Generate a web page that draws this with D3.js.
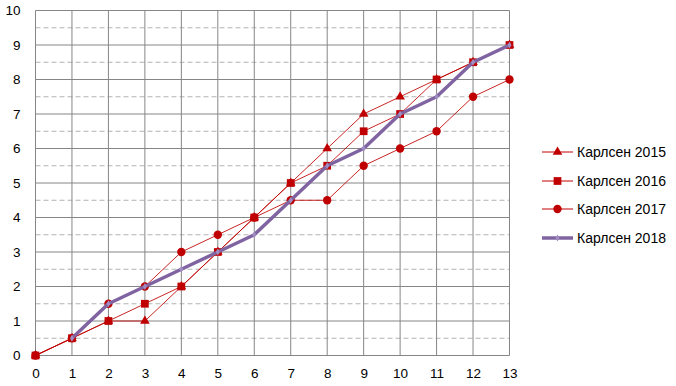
<!DOCTYPE html>
<html>
<head>
<meta charset="utf-8">
<script src="https://cdn.jsdelivr.net/npm/d3@7"></script>
<style>
  body { margin: 0; background: #fff; }
  text { font-family: "Liberation Sans", Arial, sans-serif; }
</style>
</head>
<body>
<div id="chart"></div>
<script>
// games played (x) and cumulative score (y)
var rounds = [0, 1, 2, 3, 4, 5, 6, 7, 8, 9, 10, 11, 12, 13]
var s2015 = [0, 0.5, 1, 1, 2, 3, 4, 5, 6, 7, 7.5, 8, 8.5, 9]
var s2016 = [0, 0.5, 1, 1.5, 2, 3, 4, 5, 5.5, 6.5, 7, 8, 8.5, 9]
var s2017 = [0, 0.5, 1.5, 2, 3, 3.5, 4, 4.5, 4.5, 5.5, 6, 6.5, 7.5, 8]
var s2018 = [null, 0.5, 1.5, 2, 2.5, 3, 3.5, 4.5, 5.5, 6, 7, 7.5, 8.5, 9]
var seriesNames = ["Карлсен 2015", "Карлсен 2016", "Карлсен 2017", "Карлсен 2018"]
var yTicks = [0, 1, 2, 3, 4, 5, 6, 7, 8, 9, 10]
var yHalf = [0.5, 1.5, 2.5, 3.5, 4.5, 5.5, 6.5, 7.5, 8.5, 9.5]

var width = 676, height = 386
var red = "#C00000", purple = "#8064A2"

var svg = d3.select("#chart").append("svg")
    .attr("width", width)
    .attr("height", height)

var x = d3.scaleLinear().domain([0, 13]).range([35.5, 509.5])
var y = d3.scaleLinear().domain([0, 10]).range([355.5, 10.5])

// dashed half-step gridlines
svg.append("g").selectAll("line")
    .data(yHalf).enter().append("line")
    .attr("x1", x(0)).attr("x2", x(13))
    .attr("y1", d => y(d)).attr("y2", d => y(d))
    .attr("stroke", "#b3b3b3")
    .attr("stroke-dasharray", "5,3")

// solid gridlines
svg.append("g").selectAll("line")
    .data(yTicks).enter().append("line")
    .attr("x1", x(0)).attr("x2", x(13))
    .attr("y1", d => y(d)).attr("y2", d => y(d))
    .attr("stroke", "#868686")

svg.append("g").selectAll("line")
    .data(rounds).enter().append("line")
    .attr("x1", d => x(d)).attr("x2", d => x(d))
    .attr("y1", y(0)).attr("y2", y(10))
    .attr("stroke", "#868686")

// axis labels
var axisY = d3.axisLeft(y).tickValues(yTicks).tickSize(0).tickPadding(15)
var gy = svg.append("g").attr("transform", "translate(" + x(0) + ",0)").call(axisY)
gy.select(".domain").remove()
gy.selectAll("text").attr("font-size", 13.5).attr("fill", "#000")
    .style("font-family", "Liberation Sans, Arial, sans-serif")

var axisX = d3.axisBottom(x).tickValues(rounds).tickSize(0).tickPadding(13)
var gx = svg.append("g").attr("transform", "translate(0," + y(0) + ")").call(axisX)
gx.select(".domain").remove()
gx.selectAll("text").attr("font-size", 13.5).attr("fill", "#000")
    .style("font-family", "Liberation Sans, Arial, sans-serif")

var line = d3.line()
    .defined(d => d != null)
    .x((d, i) => x(rounds[i]))
    .y(d => y(d))

var tri = d3.symbol().type(d3.symbolTriangle).size(40)
var sq = d3.symbol().type(d3.symbolSquare).size(60)
var circ = d3.symbol().type(d3.symbolCircle).size(55)
var dia = d3.symbol().type(d3.symbolDiamond).size(14)

var series = [
    { data: s2015, sym: tri },
    { data: s2016, sym: sq },
    { data: s2017, sym: circ }
]

series.forEach(function (s) {
    svg.append("path")
        .datum(s.data)
        .attr("d", line)
        .attr("fill", "none")
        .attr("stroke", red)
        .attr("stroke-opacity", 0.85)
        .attr("stroke-width", 1)
    svg.append("g").selectAll("path")
        .data(s.data).enter().append("path")
        .attr("transform", (d, i) => "translate(" + x(rounds[i]) + "," + y(d) + ")")
        .attr("d", s.sym)
        .attr("fill", red)
})

svg.append("path")
    .datum(s2018)
    .attr("d", line)
    .attr("fill", "none")
    .attr("stroke", purple)
    .attr("stroke-width", 3.5)
    .attr("stroke-linejoin", "round")
svg.append("g").selectAll("path")
    .data(s2018.filter(d => d != null)).enter().append("path")
    .attr("transform", (d, i) => "translate(" + x(rounds[i + 1]) + "," + y(d) + ")")
    .attr("d", dia)
    .attr("fill", "#a08cc0")

// legend
var legendY = [152, 181, 209, 238]
var legendSyms = [tri, sq, circ, dia]
var legend = svg.append("g")
seriesNames.forEach(function (name, i) {
    var g = legend.append("g").attr("transform", "translate(542," + legendY[i] + ")")
    var isLast = i == 3
    g.append("line")
        .attr("x1", 0).attr("x2", 31)
        .attr("stroke", isLast ? purple : red)
        .attr("stroke-width", isLast ? 3.5 : 1)
    g.append("path")
        .attr("transform", "translate(15.5,0)")
        .attr("d", legendSyms[i])
        .attr("fill", isLast ? "#a08cc0" : red)
    g.append("text")
        .attr("x", 35)
        .attr("dy", "0.35em")
        .attr("font-size", 14)
        .text(name)
})
</script>
</body>
</html>
